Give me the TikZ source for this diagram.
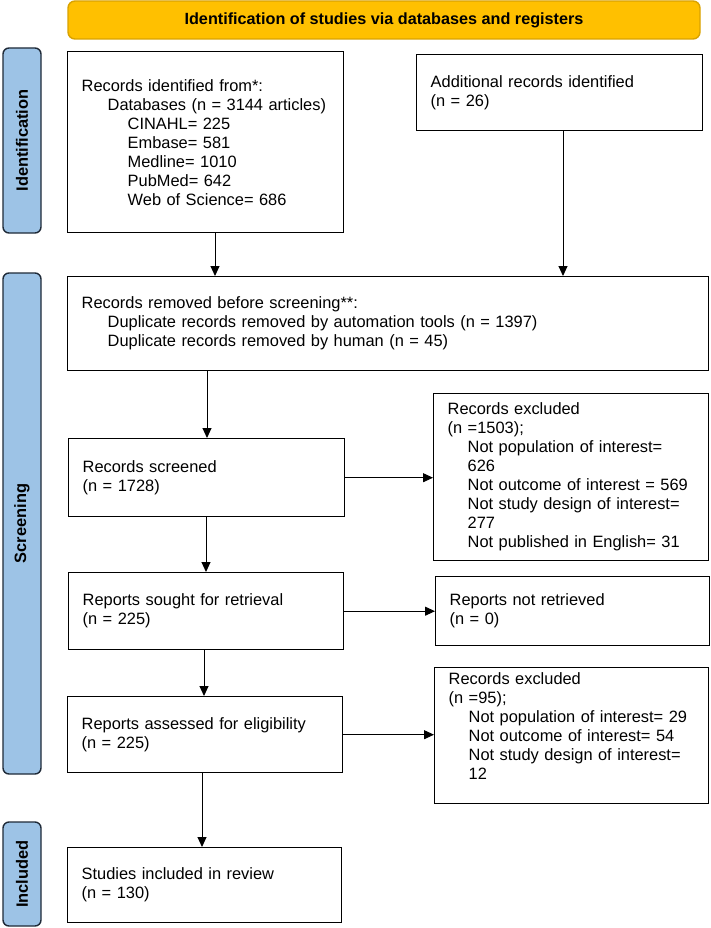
\documentclass[tikz,border=0pt]{standalone}
\usepackage{fontspec}
\setmainfont{Liberation Sans}
\usetikzlibrary{arrows.meta}
\definecolor{bannerfill}{HTML}{FFC000}
\definecolor{bannerdraw}{HTML}{D9A200}
\definecolor{labfill}{HTML}{9DC3E6}
\definecolor{labdraw}{HTML}{1F2A38}
\newcommand{\indA}{\hspace*{20pt}}
\newcommand{\indB}{\hspace*{26pt}}
\newcommand{\indC}{\hspace*{46pt}}
\tikzset{
  box/.style={draw, line width=1.4pt, anchor=north west, align=left,
    inner xsep=14pt, inner ysep=0pt,
    font=\fontsize{16.4pt}{19pt}\selectfont},
  lab/.style={draw=labdraw, fill=labfill, line width=1.4pt, rounded corners=6pt,
    rotate=90, inner sep=0pt, font=\fontsize{16.4pt}{19pt}\selectfont\bfseries},
  arr/.style={line width=1pt, -{Triangle[length=10pt,width=9pt]}}
}
\begin{document}
\begin{tikzpicture}[x=1pt,y=-1pt]
\useasboundingbox (0,0) rectangle (710,928);
% banner
\node[draw=bannerdraw, fill=bannerfill, line width=1.4pt, rounded corners=7pt,
  minimum width=632pt, minimum height=38pt, inner sep=0pt,
  font=\fontsize{16.2pt}{19pt}\selectfont\bfseries] (banner) at (384,20)
  {Identification of studies via databases and registers};
% side labels
\node[lab, minimum width=185pt, minimum height=38pt] (lid) at (22,140.5) {Identification};
\node[lab, minimum width=501pt, minimum height=38pt] (lsc) at (22,523.5) {Screening};
\node[lab, minimum width=104pt, minimum height=38pt] (lin) at (22,874) {Included};
% boxes
\node[box, text width=248pt, minimum height=181pt] (b1) at (67,51)
  {Records identified from*:\\
   \indB Databases (n = 3144 articles)\\
   \indC CINAHL= 225\\
   \indC Embase= 581\\
   \indC Medline= 1010\\
   \indC PubMed= 642\\
   \indC Web of Science= 686};
\node[box, text width=258pt, minimum height=76pt] (b2) at (416,54)
  {Additional records identified\\ (n = 26)};
\node[box, text width=613pt, minimum height=94pt] (b3) at (67,276)
  {Records removed before screening**:\\
   \indB Duplicate records removed by automation tools (n = 1397)\\
   \indB Duplicate records removed by human (n = 45)};
\node[box, text width=248pt, minimum height=78pt] (b4) at (68,438)
  {Records screened\\ (n = 1728)};
\node[box, text width=247pt, minimum height=167pt] (b5) at (433,393)
  {Records excluded\\
   (n =1503);\\
   \indA Not population of interest=\\
   \indA 626\\
   \indA Not outcome of interest = 569\\
   \indA Not study design of interest=\\
   \indA 277\\
   \indA Not published in English= 31};
\node[box, text width=247pt, minimum height=77pt] (b6) at (68,572)
  {Reports sought for retrieval\\ (n = 225)};
\node[box, text width=246pt, minimum height=69pt] (b7) at (435,576)
  {Reports not retrieved\\ (n = 0)};
\node[box, text width=247pt, minimum height=76pt] (b8) at (67,696)
  {Reports assessed for eligibility\\ (n = 225)};
\node[box, text width=246pt, minimum height=136pt] (b9) at (434,667)
  {Records excluded\\
   (n =95);\\
   \indA Not population of interest= 29\\
   \indA Not outcome of interest= 54\\
   \indA Not study design of interest=\\
   \indA 12\\
   \mbox{}};
\node[box, text width=246pt, minimum height=75pt] (b10) at (67,847)
  {Studies included in review\\ (n = 130)};
% arrow columns
\coordinate (c1) at (215,0);
\coordinate (c2) at (563,0);
\coordinate (c3) at (207,0);
\coordinate (c4) at (206,0);
\coordinate (c5) at (204,0);
\coordinate (c6) at (202,0);
% connectors
\draw[arr] (b1.south -| c1) -- (b3.north -| c1);
\draw[arr] (b2.south -| c2) -- (b3.north -| c2);
\draw[arr] (b3.south -| c3) -- (b4.north -| c3);
\draw[arr] (b4.south -| c4) -- (b6.north -| c4);
\draw[arr] (b6.south -| c5) -- (b8.north -| c5);
\draw[arr] (b8.south -| c6) -- (b10.north -| c6);
\draw[arr] (b4.east) -- (b4.east -| b5.west);
\draw[arr] (b6.east) -- (b6.east -| b7.west);
\draw[arr] (b8.east) -- (b8.east -| b9.west);
\end{tikzpicture}
\end{document}
